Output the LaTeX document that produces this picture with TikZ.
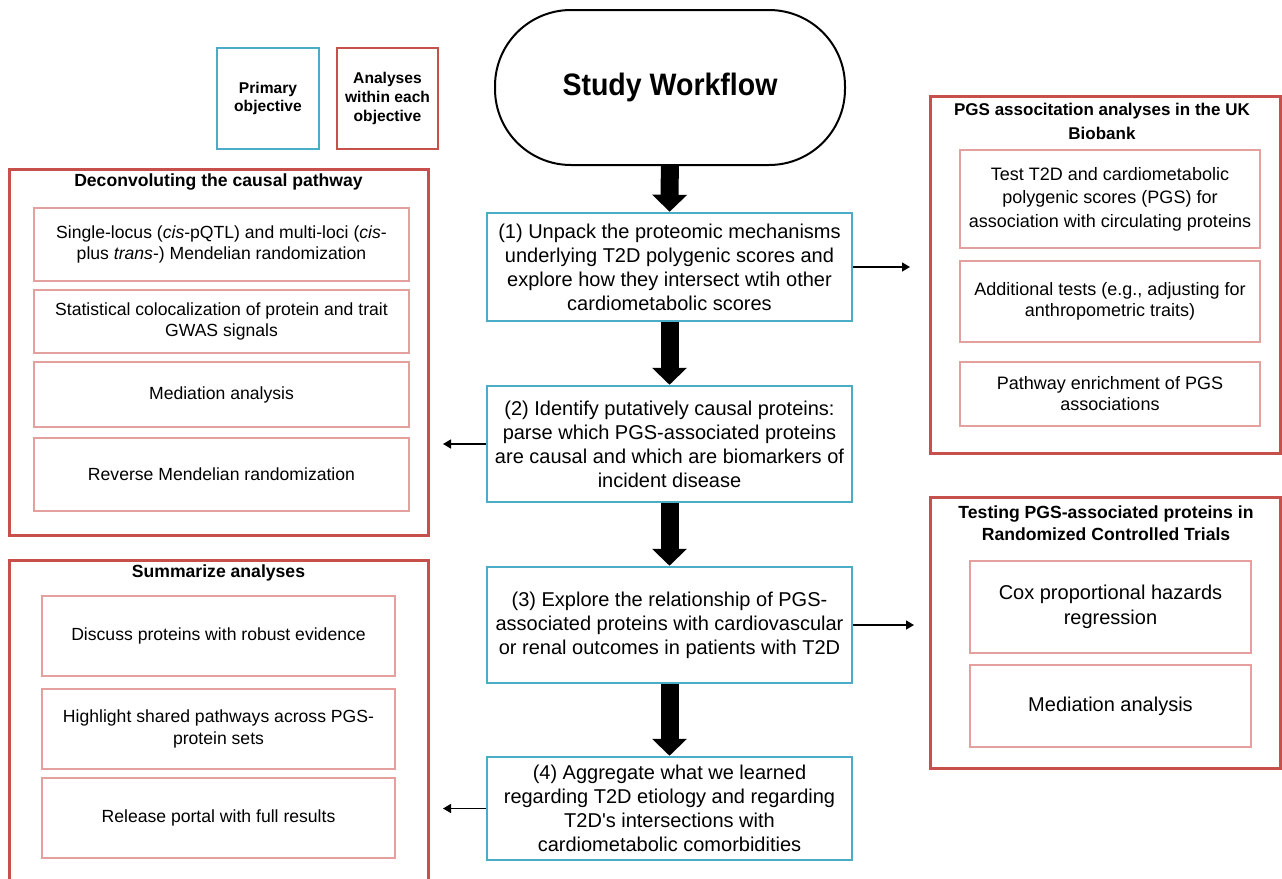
\documentclass[tikz,border=0pt]{standalone}
\usepackage{fontspec}
\setmainfont{Liberation Sans}
\newfontfamily\titlefont[FakeStretch=0.92]{Liberation Sans}
\usepackage{tikz}
\usetikzlibrary{arrows.meta, positioning}

\definecolor{objblue}{HTML}{4BACC6}
\definecolor{anared}{HTML}{C8504B}
\definecolor{subred}{HTML}{E3A09E}

\begin{document}
\begin{tikzpicture}[x=0.5pt, y=-0.5pt,
    objbox/.style={draw=objblue, line width=1.25pt, align=center, inner sep=0pt,
      minimum width=182.5pt, font=\fontsize{10}{12}\selectfont},
    groupbox/.style={draw=anared, line width=1.5pt, inner sep=0pt},
    subbox/.style={draw=subred, line width=0.7pt, align=center, inner sep=0pt},
    smalltext/.style={font=\fontsize{8.8}{10.75}\selectfont},
    grouptitle/.style={align=center, font=\bfseries\fontsize{8.8}{11}\selectfont},
    bigarrow/.style={line width=9pt, -{Triangle[width=17pt,length=8.5pt]}},
    thinarrow/.style={line width=0.7pt, -{Triangle[width=4.5pt,length=4pt]}}]
    \useasboundingbox (0,0) rectangle (1282,879);

    % Legend
    \node[draw=objblue, line width=1.25pt, minimum width=51pt, minimum height=50.5pt,
      align=center, inner sep=0pt, font=\bfseries\fontsize{7.8}{9.3}\selectfont]
      (legPrimary) at (268,98.5) {Primary\\objective};
    \node[draw=anared, line width=1.25pt, minimum width=50.5pt, minimum height=50.5pt,
      align=center, inner sep=0pt, font=\bfseries\fontsize{7.8}{9.3}\selectfont]
      (legAnalyses) at (387.5,98.5) {Analyses\\within each\\objective};

    % Start
    \node[draw, line width=1pt, rounded corners=38pt, minimum width=175pt, minimum height=77.5pt,
      font=\titlefont\bfseries\fontsize{15.5}{18}\selectfont]
      (start) at (670,87.5) {Study Workflow};

    % Primary objectives
    \node[objbox, minimum height=54pt] (obj1) at (669.5,267)
      {(1) Unpack the proteomic mechanisms\\underlying T2D polygenic scores and\\explore how they intersect wtih other\\cardiometabolic scores};
    \node[objbox, minimum height=58pt] (obj2) at (669.5,444)
      {(2) Identify putatively causal proteins:\\parse which PGS-associated proteins\\are causal and which are biomarkers of\\incident disease};
    \node[objbox, minimum height=58pt] (obj3) at (669.5,625)
      {(3) Explore the relationship of PGS-\\associated proteins with cardiovascular\\or renal outcomes in patients with T2D};
    \node[objbox, minimum height=51.5pt] (obj4) at (669.5,808.5)
      {(4) Aggregate what we learned\\regarding T2D etiology and regarding\\T2D\textquotesingle s intersections with\\cardiometabolic comorbidities};

    \draw[bigarrow] (start) -- (obj1);
    \draw[bigarrow] (obj1) -- (obj2);
    \draw[bigarrow] (obj2) -- (obj3);
    \draw[bigarrow] (obj3) -- (obj4);

    % Deconvoluting the causal pathway
    \node[groupbox, minimum width=209.5pt, minimum height=183pt] (causal) at (218.5,352) {};
    \node[grouptitle] (causalTitle) at (218.5,182) {Deconvoluting the causal pathway};
    \node[subbox, smalltext, minimum width=187.5pt, minimum height=36.5pt] (mr) at (221.5,244.5)
      {Single-locus (\textit{cis}-pQTL) and multi-loci (\textit{cis}-\\plus \textit{trans}-) Mendelian randomization};
    \node[subbox, smalltext, minimum width=187.5pt, minimum height=31.5pt] (coloc) at (221.5,321.5)
      {Statistical colocalization of protein and trait\\GWAS signals};
    \node[subbox, smalltext, minimum width=187.5pt, minimum height=32.5pt] (mediation) at (221.5,394.5)
      {Mediation analysis};
    \node[subbox, smalltext, minimum width=187.5pt, minimum height=36.5pt] (reverseMr) at (221.5,474.5)
      {Reverse Mendelian randomization};

    % Summarize analyses
    \node[groupbox, minimum width=209.5pt, minimum height=162.5pt] (summary) at (218.5,722.5) {};
    \node[grouptitle] (summaryTitle) at (218.5,573) {Summarize analyses};
    \node[subbox, smalltext, minimum width=176.5pt, minimum height=40pt] (discuss) at (218.5,636)
      {Discuss proteins with robust evidence};
    \node[subbox, smalltext, minimum width=176.5pt, minimum height=40pt] (shared) at (218.5,729)
      {Highlight shared pathways across PGS-\\protein sets};
    \node[subbox, smalltext, minimum width=176.5pt, minimum height=40pt] (portal) at (218.5,818)
      {Release portal with full results};

    % PGS associations in the UK Biobank
    \node[groupbox, minimum width=175pt, minimum height=178.5pt] (ukb) at (1105,274.5) {};
    \node[grouptitle, font=\bfseries\fontsize{8.5}{12}\selectfont] (ukbTitle) at (1102,121)
      {PGS associtation analyses in the UK\\Biobank};
    \node[subbox, font=\fontsize{9}{11.75}\selectfont, minimum width=150pt, minimum height=49pt] (pgsTest) at (1110,199)
      {Test T2D and cardiometabolic\\polygenic scores (PGS) for\\association with circulating proteins};
    \node[subbox, font=\fontsize{9}{10.5}\selectfont, minimum width=150pt, minimum height=40.5pt] (pgsExtra) at (1110,301.5)
      {Additional tests (e.g., adjusting for\\anthropometric traits)};
    \node[subbox, font=\fontsize{9}{10.5}\selectfont, minimum width=150pt, minimum height=32pt] (pgsPath) at (1110,394)
      {Pathway enrichment of PGS\\associations};

    % Randomized Controlled Trials
    \node[groupbox, minimum width=175pt, minimum height=135.5pt] (rct) at (1105,632.5) {};
    \node[grouptitle, font=\bfseries\fontsize{8.8}{11}\selectfont] (rctTitle) at (1106,523)
      {Testing PGS-associated proteins in\\Randomized Controlled Trials};
    \node[subbox, font=\fontsize{10}{12.5}\selectfont, minimum width=140.5pt, minimum height=46pt] (cox) at (1110.5,607)
      {Cox proportional hazards\\regression};
    \node[subbox, font=\fontsize{10}{12.5}\selectfont, minimum width=140.5pt, minimum height=41pt] (rctMed) at (1110.5,706)
      {Mediation analysis};

    % Side arrows
    \coordinate (toUkb) at (910,267);
    \coordinate (toCausal) at (443,444);
    \coordinate (toRct) at (914,625);
    \coordinate (toSummary) at (443,808.5);
    \draw[thinarrow] (obj1.east) -- (toUkb);
    \draw[thinarrow] (obj2.west) -- (toCausal);
    \draw[thinarrow] (obj3.east) -- (toRct);
    \draw[thinarrow] (obj4.west) -- (toSummary);
\end{tikzpicture}
\end{document}
